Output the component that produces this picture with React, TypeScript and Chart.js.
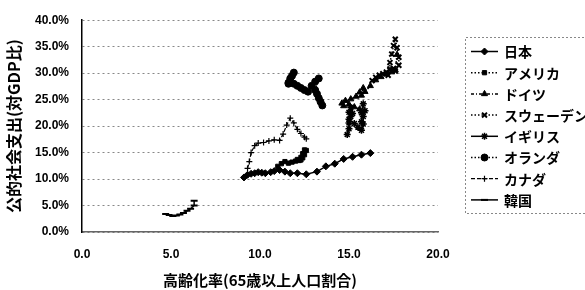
import { useEffect, useRef } from 'react';
import { Chart, registerables } from 'chart.js';
import { drawPoint } from 'chart.js/helpers';

Chart.register(...registerables);

// ---- axis ticks ----
const xTickValues = [0, 5, 10, 15, 20];
const yTickValues = [0, 5, 10, 15, 20, 25, 30, 35, 40];

const xTitle = '高齢化率(65歳以上人口割合)';
const yTitle = '公的社会支出(対GDP比)';

// ---- series: aging rate (x, %) and public social expenditure (y, % of GDP) ----
const japanX = [9.1, 9.3, 9.5, 9.7, 9.9, 10.1, 10.3, 10.6, 10.8, 11.1, 11.4, 11.7, 12.1, 12.6, 13.2, 13.7, 14.2, 14.7, 15.2, 15.7, 16.2];
const japanY = [10.3, 10.8, 11.0, 11.1, 11.3, 11.2, 11.1, 11.3, 11.5, 11.7, 11.4, 11.1, 11.1, 10.9, 11.4, 12.4, 12.9, 13.8, 14.2, 14.6, 14.9];

const usX = [11.0, 11.2, 11.4, 11.6, 11.8, 12.0, 12.1, 12.2, 12.3, 12.4, 12.5, 12.6, 12.5, 12.4, 12.3];
const usY = [12.4, 12.9, 13.3, 13.0, 13.2, 13.4, 13.7, 13.5, 14.1, 14.8, 15.5, 15.4, 14.6, 14.0, 13.6];

const germanyX = [15.6, 15.3, 15.0, 14.7, 14.6, 14.8, 15.1, 15.4, 15.6, 15.8, 15.7, 15.9, 16.2, 16.5, 16.8, 17.1, 17.4, 17.6, 17.7];
const germanyY = [23.2, 23.6, 24.1, 23.8, 24.3, 24.8, 25.1, 25.6, 26.4, 27.2, 25.8, 26.5, 27.6, 28.7, 29.3, 29.8, 30.2, 30.6, 33.5];

const swedenX = [16.3, 16.5, 16.7, 16.9, 17.1, 17.3, 17.5, 17.6, 17.8, 17.8, 17.7, 17.6, 17.5, 17.4, 17.3, 17.3, 17.2];
const swedenY = [28.6, 29.2, 29.6, 29.9, 30.2, 30.6, 30.9, 30.4, 31.5, 33.0, 34.8, 36.4, 35.2, 33.6, 32.0, 30.8, 29.6];

const ukX = [14.9, 15.0, 15.0, 15.1, 15.0, 15.1, 15.2, 15.0, 15.3, 15.5, 15.7, 15.8, 15.8, 15.9, 15.8, 15.7, 15.7];
const ukY = [18.4, 19.5, 20.6, 21.8, 22.6, 23.5, 22.4, 21.3, 20.5, 19.8, 19.2, 20.4, 21.8, 22.9, 24.2, 22.5, 20.8];

const netherlandsX = [11.6, 11.8, 11.9, 11.7, 11.6, 11.9, 12.1, 12.3, 12.5, 12.7, 12.9, 13.1, 13.3, 13.1, 13.2, 13.3, 13.4, 13.5];
const netherlandsY = [28.0, 29.5, 30.1, 29.0, 28.2, 28.0, 27.6, 27.2, 26.8, 26.5, 27.6, 28.4, 29.0, 26.8, 26.1, 25.3, 24.6, 23.9];

const canadaX = [9.3, 9.4, 9.5, 9.7, 9.9, 10.2, 10.5, 10.8, 11.1, 11.3, 11.5, 11.7, 11.9, 12.1, 12.3, 12.5, 12.6];
const canadaY = [12.0, 13.3, 15.0, 16.3, 16.8, 16.9, 17.2, 17.4, 17.3, 18.5, 20.2, 21.5, 20.6, 19.4, 18.6, 17.9, 17.6];

const koreaX = [4.7, 4.9, 5.1, 5.3, 5.5, 5.7, 5.9, 6.1, 6.3, 6.3];
const koreaY = [3.4, 3.2, 3.0, 3.1, 3.3, 3.6, 4.0, 4.4, 5.0, 5.9];

const seriesNames = ['日本', 'アメリカ', 'ドイツ', 'スウェーデン', 'イギリス', 'オランダ', 'カナダ', '韓国'];

const zip = (xs: number[], ys: number[]) => xs.map((x, i) => ({ x, y: ys[i] }));

const tickFont = { family: "'Liberation Sans', Arial, sans-serif", size: 12, weight: 'bold' as const };
const jpFont = "'Noto Sans CJK JP', sans-serif";

const legendPlugin = {
  id: 'boxLegend',
  afterDraw(chart: any) {
    const ctx = chart.ctx as CanvasRenderingContext2D;
    ctx.save();
    ctx.strokeStyle = '#888';
    ctx.lineWidth = 1;
    ctx.setLineDash([2, 2]);
    ctx.beginPath();
    ctx.moveTo(600, 37.5);
    ctx.lineTo(465.5, 37.5);
    ctx.lineTo(465.5, 213.5);
    ctx.lineTo(600, 213.5);
    ctx.stroke();
    chart.data.datasets.forEach((ds: any, i: number) => {
      const y = 51.5 + i * 21.2;
      ctx.setLineDash(ds.borderDash || []);
      ctx.strokeStyle = '#000';
      ctx.lineWidth = ds.borderWidth;
      ctx.beginPath();
      ctx.moveTo(471, y);
      ctx.lineTo(498, y);
      ctx.stroke();
      ctx.setLineDash([]);
      ctx.fillStyle = '#000';
      ctx.strokeStyle = '#000';
      ctx.lineWidth = ds.pointBorderWidth;
      drawPoint(ctx, { pointStyle: ds.pointStyle, radius: ds.pointRadius, borderWidth: ds.pointBorderWidth, rotation: 0 } as any, 484.5, y);
      ctx.fillStyle = '#000';
      ctx.font = `bold 14px ${jpFont}`;
      ctx.textAlign = 'left';
      ctx.textBaseline = 'middle';
      ctx.fillText(ds.label, 504, y + 0.5);
    });
    ctx.restore();
  },
};

export default function App() {
  const ref = useRef<HTMLCanvasElement | null>(null);

  useEffect(() => {
    document.body.style.margin = '0';
    const canvas = ref.current;
    if (!canvas) return;
    const base = {
      borderColor: '#000',
      backgroundColor: '#000',
      pointBackgroundColor: '#000',
      pointBorderColor: '#000',
      showLine: true,
      fill: false,
      tension: 0,
    };
    const datasets = [
      { ...base, label: seriesNames[0], data: zip(japanX, japanY), borderWidth: 1.5, borderDash: [], pointStyle: 'rectRot', pointRadius: 3.5, pointBorderWidth: 1 },
      { ...base, label: seriesNames[1], data: zip(usX, usY), borderWidth: 1.5, borderDash: [1.5, 2], pointStyle: 'rect', pointRadius: 3, pointBorderWidth: 1 },
      { ...base, label: seriesNames[2], data: zip(germanyX, germanyY), borderWidth: 1.5, borderDash: [3, 2, 1, 2], pointStyle: 'triangle', pointRadius: 3.5, pointBorderWidth: 1 },
      { ...base, label: seriesNames[3], data: zip(swedenX, swedenY), borderWidth: 1.5, borderDash: [1.5, 2], pointStyle: 'crossRot', pointRadius: 3.5, pointBorderWidth: 2 },
      { ...base, label: seriesNames[4], data: zip(ukX, ukY), borderWidth: 1.5, borderDash: [], pointStyle: 'star', pointRadius: 3.5, pointBorderWidth: 1.5 },
      { ...base, label: seriesNames[5], data: zip(netherlandsX, netherlandsY), borderWidth: 1.5, borderDash: [1.5, 2], pointStyle: 'circle', pointRadius: 3.5, pointBorderWidth: 1 },
      { ...base, label: seriesNames[6], data: zip(canadaX, canadaY), borderWidth: 1.2, borderDash: [4, 2], pointStyle: 'cross', pointRadius: 3, pointBorderWidth: 1.2 },
      { ...base, label: seriesNames[7], data: zip(koreaX, koreaY), borderWidth: 1.5, borderDash: [], pointStyle: 'line', pointRadius: 3.5, pointBorderWidth: 2 },
    ];

    const chart = new Chart(canvas, {
      type: 'scatter',
      data: { datasets: datasets as any },
      options: {
        animation: false,
        responsive: true,
        maintainAspectRatio: false,
        layout: { padding: { top: 15, right: 147, bottom: 0, left: 0 } },
        plugins: { legend: { display: false }, tooltip: { enabled: false } },
        scales: {
          x: {
            type: 'linear',
            min: 0,
            max: 20,
            afterBuildTicks: (s: any) => { s.ticks = xTickValues.map((v) => ({ value: v })); },
            afterFit: (s: any) => { s.height = 58; },
            ticks: {
              callback: (v: any) => Number(v).toFixed(1),
              font: tickFont,
              color: '#000',
              padding: 15,
              maxRotation: 0,
            },
            grid: { display: false, drawTicks: false },
            border: { display: true, color: '#666', width: 1.5 },
            title: {
              display: true,
              text: xTitle,
              color: '#000',
              font: { family: jpFont, size: 15, weight: 'bold' },
              padding: { top: 0, bottom: 1 },
            },
          },
          y: {
            type: 'linear',
            min: 0,
            max: 40,
            afterBuildTicks: (s: any) => { s.ticks = yTickValues.map((v) => ({ value: v })); },
            afterFit: (s: any) => { s.width = 82; },
            ticks: {
              callback: (v: any) => Number(v).toFixed(1) + '%',
              font: tickFont,
              color: '#000',
              padding: 13,
            },
            grid: { display: true, drawTicks: false, color: '#888', lineWidth: 1 },
            border: { display: true, color: '#000', width: 1.5, dash: [2, 3] },
            title: {
              display: true,
              text: yTitle,
              color: '#000',
              font: { family: jpFont, size: 16, weight: 'bold' },
              padding: { top: 4, bottom: 0 },
            },
          },
        },
      },
      plugins: [legendPlugin],
    });
    return () => chart.destroy();
  }, []);

  return (
    <div style={{ position: 'relative', width: 585, height: 290 }}>
      <canvas ref={ref} />
    </div>
  );
}
